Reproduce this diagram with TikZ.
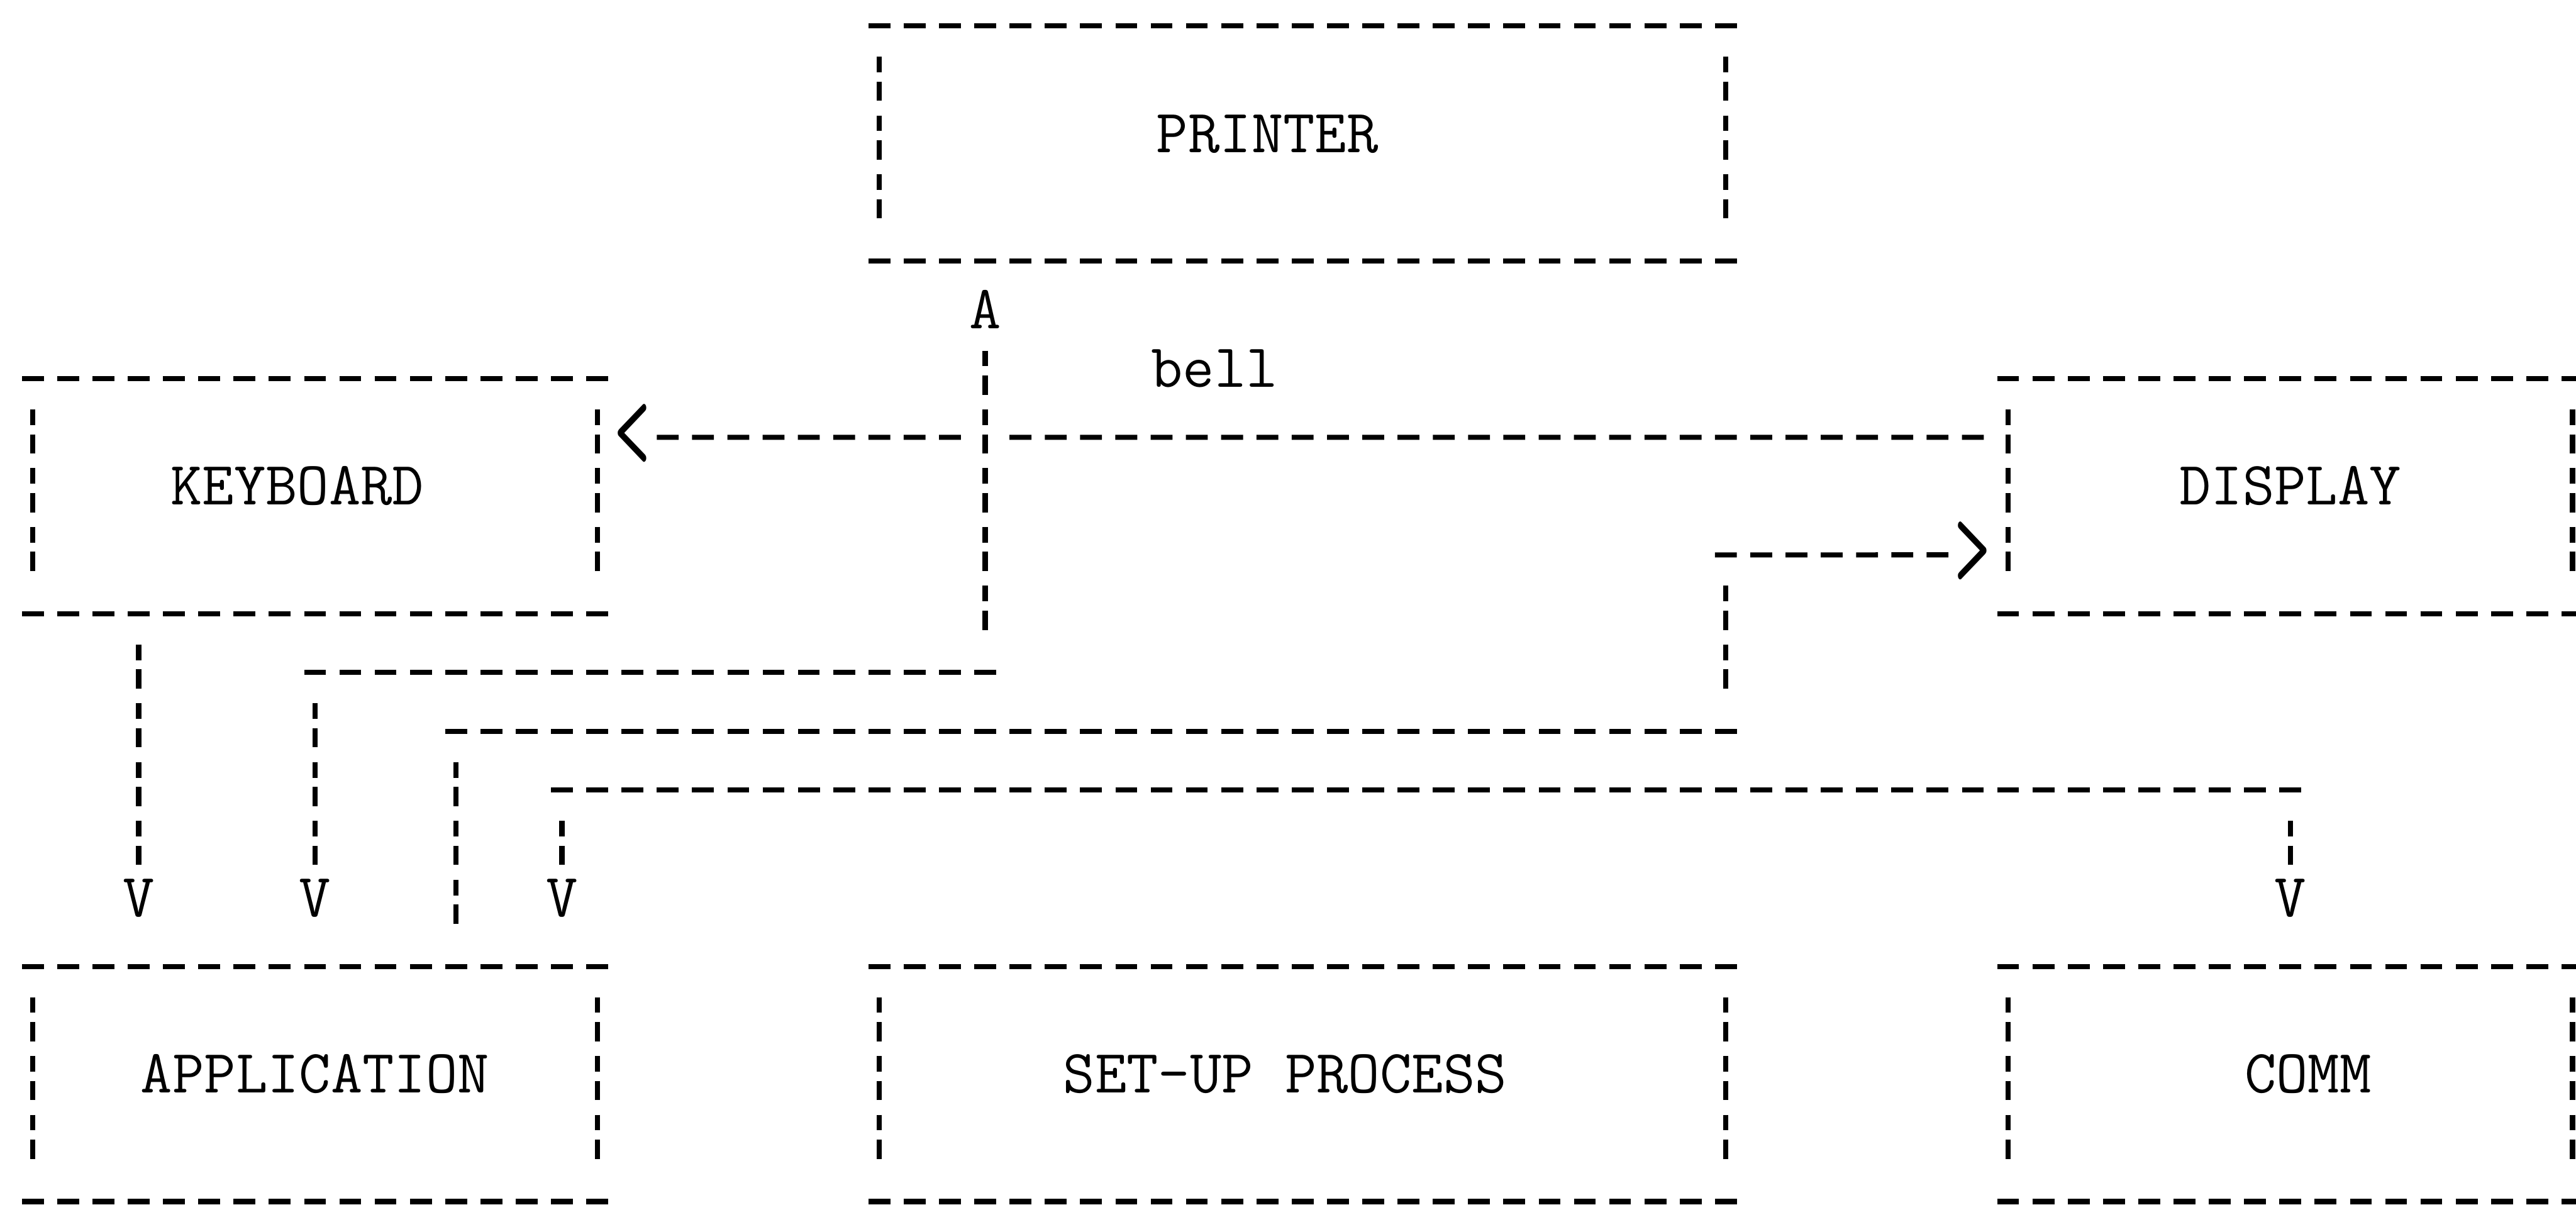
\documentclass[tikz,border=0pt]{standalone}
\usepackage{fontspec}
\usetikzlibrary{calc}

\begin{document}
\begin{tikzpicture}[x=0.254cm, y=-0.4233cm, line width=1.05pt,
  box/.style={minimum width=4.064cm, minimum height=1.6933cm, inner sep=0pt, outer sep=0pt},
  wide/.style={box, minimum width=6.096cm},
  hdash/.style={dash pattern=on 0.1575cm off 0.0965cm, shorten <=-0.0787cm, shorten >=-0.0787cm},
  vbar/.style={dash pattern=on 0.1122cm off 0.0669cm on 0.1384cm off 0.1058cm, shorten <=0.2222cm, shorten >=0.3069cm},
  tag/.style={anchor=base, yshift=-0.0635cm, inner sep=0pt, font=\fontsize{12.6}{15}\ttfamily\addfontfeatures{LetterSpace=4.6}},
  chev/.style={tag, yshift=-0.165cm}]
\useasboundingbox (-0.931,-0.44) rectangle (72.10,20.053);

% the six boxes, one text column = one x unit, one text line = one y unit
\node[wide] (printer) at (36,2) {};
\node[box] (keyboard) at (8,8) {};
\node[box] (display) at (64,8) {};
\node[box] (application) at (8,18) {};
\node[wide] (setup) at (36,18) {};
\node[box] (comm) at (64,18) {};

\foreach \bx in {printer,keyboard,display,application,setup,comm} {
  \draw[hdash] (\bx.north west) -- (\bx.north east);
  \draw[hdash] (\bx.south west) -- (\bx.south east);
  \draw[vbar] (\bx.north west) -- (\bx.south west);
  \draw[vbar] (\bx.north east) -- (\bx.south east);
}

\node[tag] (printer-name) at ($(printer.center)+(-1,0)$) {PRINTER};
\node[tag] (keyboard-name) at ($(keyboard.center)+(-0.5,0)$) {KEYBOARD};
\node[tag] (display-name) at (display.center) {DISPLAY};
\node[tag] (application-name) at (application.center) {APPLICATION};
\node[tag] (setup-name) at ($(setup.center)+(-0.5,0)$) {SET-UP PROCESS};
\node[tag] (comm-name) at ($(comm.center)+(0.5,0)$) {COMM};

% bell: display back to keyboard
\coordinate (pr-in) at ($(printer.south west)+(3,1)$);
\node[chev] (kb-tip) at ($(keyboard.north east)+(1,1)$) {\scalebox{1.15}[1.9]{<}};
\node[tag] (bell) at ($(printer.south west)+(9.5,2)$) {bell};
\draw[hdash] ($(display.north west)+(-1,1)$) -- ($(pr-in)+(1,2)$);
\draw[hdash] ($(pr-in)+(-1,2)$) -- ($(keyboard.north east)+(2,1)$);

% application to printer
\node[tag] (pr-tip) at (pr-in) {A};
\coordinate (pr-turn) at ($(pr-in)+(0,6)$);
\coordinate (app-in1) at ($(application.north west)+(8,-1)$);
\draw[vbar] (pr-in) -- (pr-turn);
\draw[hdash] (pr-turn) -- (pr-turn -| app-in1);
\draw[vbar] (pr-turn -| app-in1) -- (app-in1);
\node[tag] (app-tip1) at (app-in1) {V};

% application to display
\coordinate (disp-in) at ($(display.north west)+(-1,3)$);
\node[chev] (disp-tip) at (disp-in) {\scalebox{1.15}[1.9]{>}};
\coordinate (disp-turn) at ($(printer.south east)+(0,5)$);
\coordinate (disp-down) at ($(printer.south east)+(0,8)$);
\coordinate (app-up) at ($(application.north west)+(12,0)$);
\draw[hdash] ($(disp-in)+(-1,0)$) -- (disp-turn);
\draw[vbar] (disp-turn) -- (disp-down);
\draw[hdash] (disp-down) -- (disp-down -| app-up);
\draw[vbar] (disp-down -| app-up) -- (app-up);

% keyboard to application
\coordinate (app-in0) at ($(application.north west)+(3,-1)$);
\draw[vbar] (keyboard.south west -| app-in0) -- (app-in0);
\node[tag] (app-tip0) at (app-in0) {V};

% comm line
\coordinate (app-in2) at ($(application.north west)+(15,-1)$);
\coordinate (comm-in) at ($(comm.north west)+(8,-1)$);
\coordinate (comm-row) at ($(app-in2)+(0,-2)$);
\draw[hdash] (comm-row) -- (comm-row -| comm-in);
\draw[vbar] (comm-row) -- (app-in2);
\draw[vbar] (comm-row -| comm-in) -- (comm-in);
\node[tag] (app-tip2) at (app-in2) {V};
\node[tag] (comm-tip) at (comm-in) {V};
\end{tikzpicture}
\end{document}
